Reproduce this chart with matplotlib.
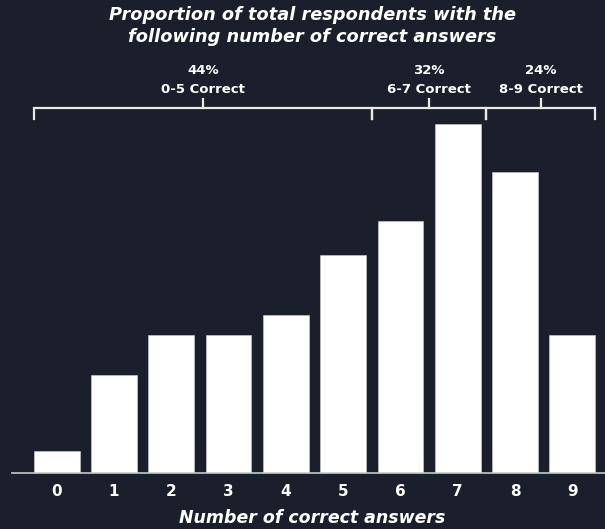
import numpy as np
import matplotlib
matplotlib.use("Agg")
import matplotlib.pyplot as plt

# share of respondents (%) by number of correct answers
CORRECT = list(range(10))
SHARE = [1.2, 5.4, 7.6, 7.6, 8.7, 12.0, 13.9, 19.2, 16.6, 7.6]

# bracket groups above the bars
GROUP_RANGES = [(0, 5), (6, 7), (8, 9)]
GROUP_NAMES = ["0-5 Correct", "6-7 Correct", "8-9 Correct"]
GROUP_PCTS = ["44%", "32%", "24%"]

BG = "#1b1f2b"
FG = "#ffffff"
FONT = "DejaVu Sans"

fig = plt.figure(figsize=(6.05, 5.29), dpi=100, facecolor=BG)
ax = fig.add_axes([12 / 605, 1 - 472.7 / 529, 1 - 12 / 605, (472.7 - 100) / 529])
ax.set_facecolor(BG)

ax.bar(CORRECT, SHARE, width=0.8, color=FG, edgecolor="#d0d0d0", linewidth=0.4)
ax.set_xlim(-0.78, 9.57)
ax.set_ylim(0, 20.55)

for side in ["top", "right", "left"]:
    ax.spines[side].set_visible(False)
ax.spines["bottom"].set_color("#c9c9c9")
ax.spines["bottom"].set_linewidth(1.2)
ax.set_yticks([])
ax.set_xticks(CORRECT)
ax.set_xticklabels([str(c) for c in CORRECT], fontsize=11, fontweight="bold",
                   color=FG, family=FONT)
ax.tick_params(axis="x", length=0, pad=8)

# x label placed by hand so it stays inside the canvas
fig.text(0.516, 1 - 518 / 529, "Number of correct answers", ha="center",
         va="center", fontsize=12.5, fontweight="bold", style="oblique",
         color=FG, family=FONT)

# brackets
y_bar = 20.09
y_end = 19.48
y_up = 20.6
n = len(GROUP_RANGES)
for i, (lo, hi) in enumerate(GROUP_RANGES):
    left = lo - 0.4 if i == 0 else lo - 0.5
    right = hi + 0.4 if i == n - 1 else hi + 0.5
    ax.plot([left, left, right, right], [y_end, y_bar, y_bar, y_end],
            color="#e8e8e8", lw=1.6, clip_on=False, solid_joinstyle="miter")
    mid = (left + right) / 2
    ax.plot([mid, mid], [y_bar, y_up], color="#e8e8e8", lw=1.6, clip_on=False)
    ax.text(mid, 21.15, GROUP_NAMES[i], ha="center", va="center", fontsize=9.5,
            fontweight="bold", color=FG, family=FONT, clip_on=False)
    ax.text(mid, 22.2, GROUP_PCTS[i], ha="center", va="center", fontsize=9.5,
            fontweight="bold", color=FG, family=FONT, clip_on=False)

fig.text(0.516, 1 - 26 / 529,
         "Proportion of total respondents with the\nfollowing number of correct answers",
         ha="center", va="center", fontsize=12.8, fontweight="bold", style="oblique",
         color=FG, family=FONT, linespacing=1.3)

fig.savefig("out.png", dpi=100, facecolor=BG)
